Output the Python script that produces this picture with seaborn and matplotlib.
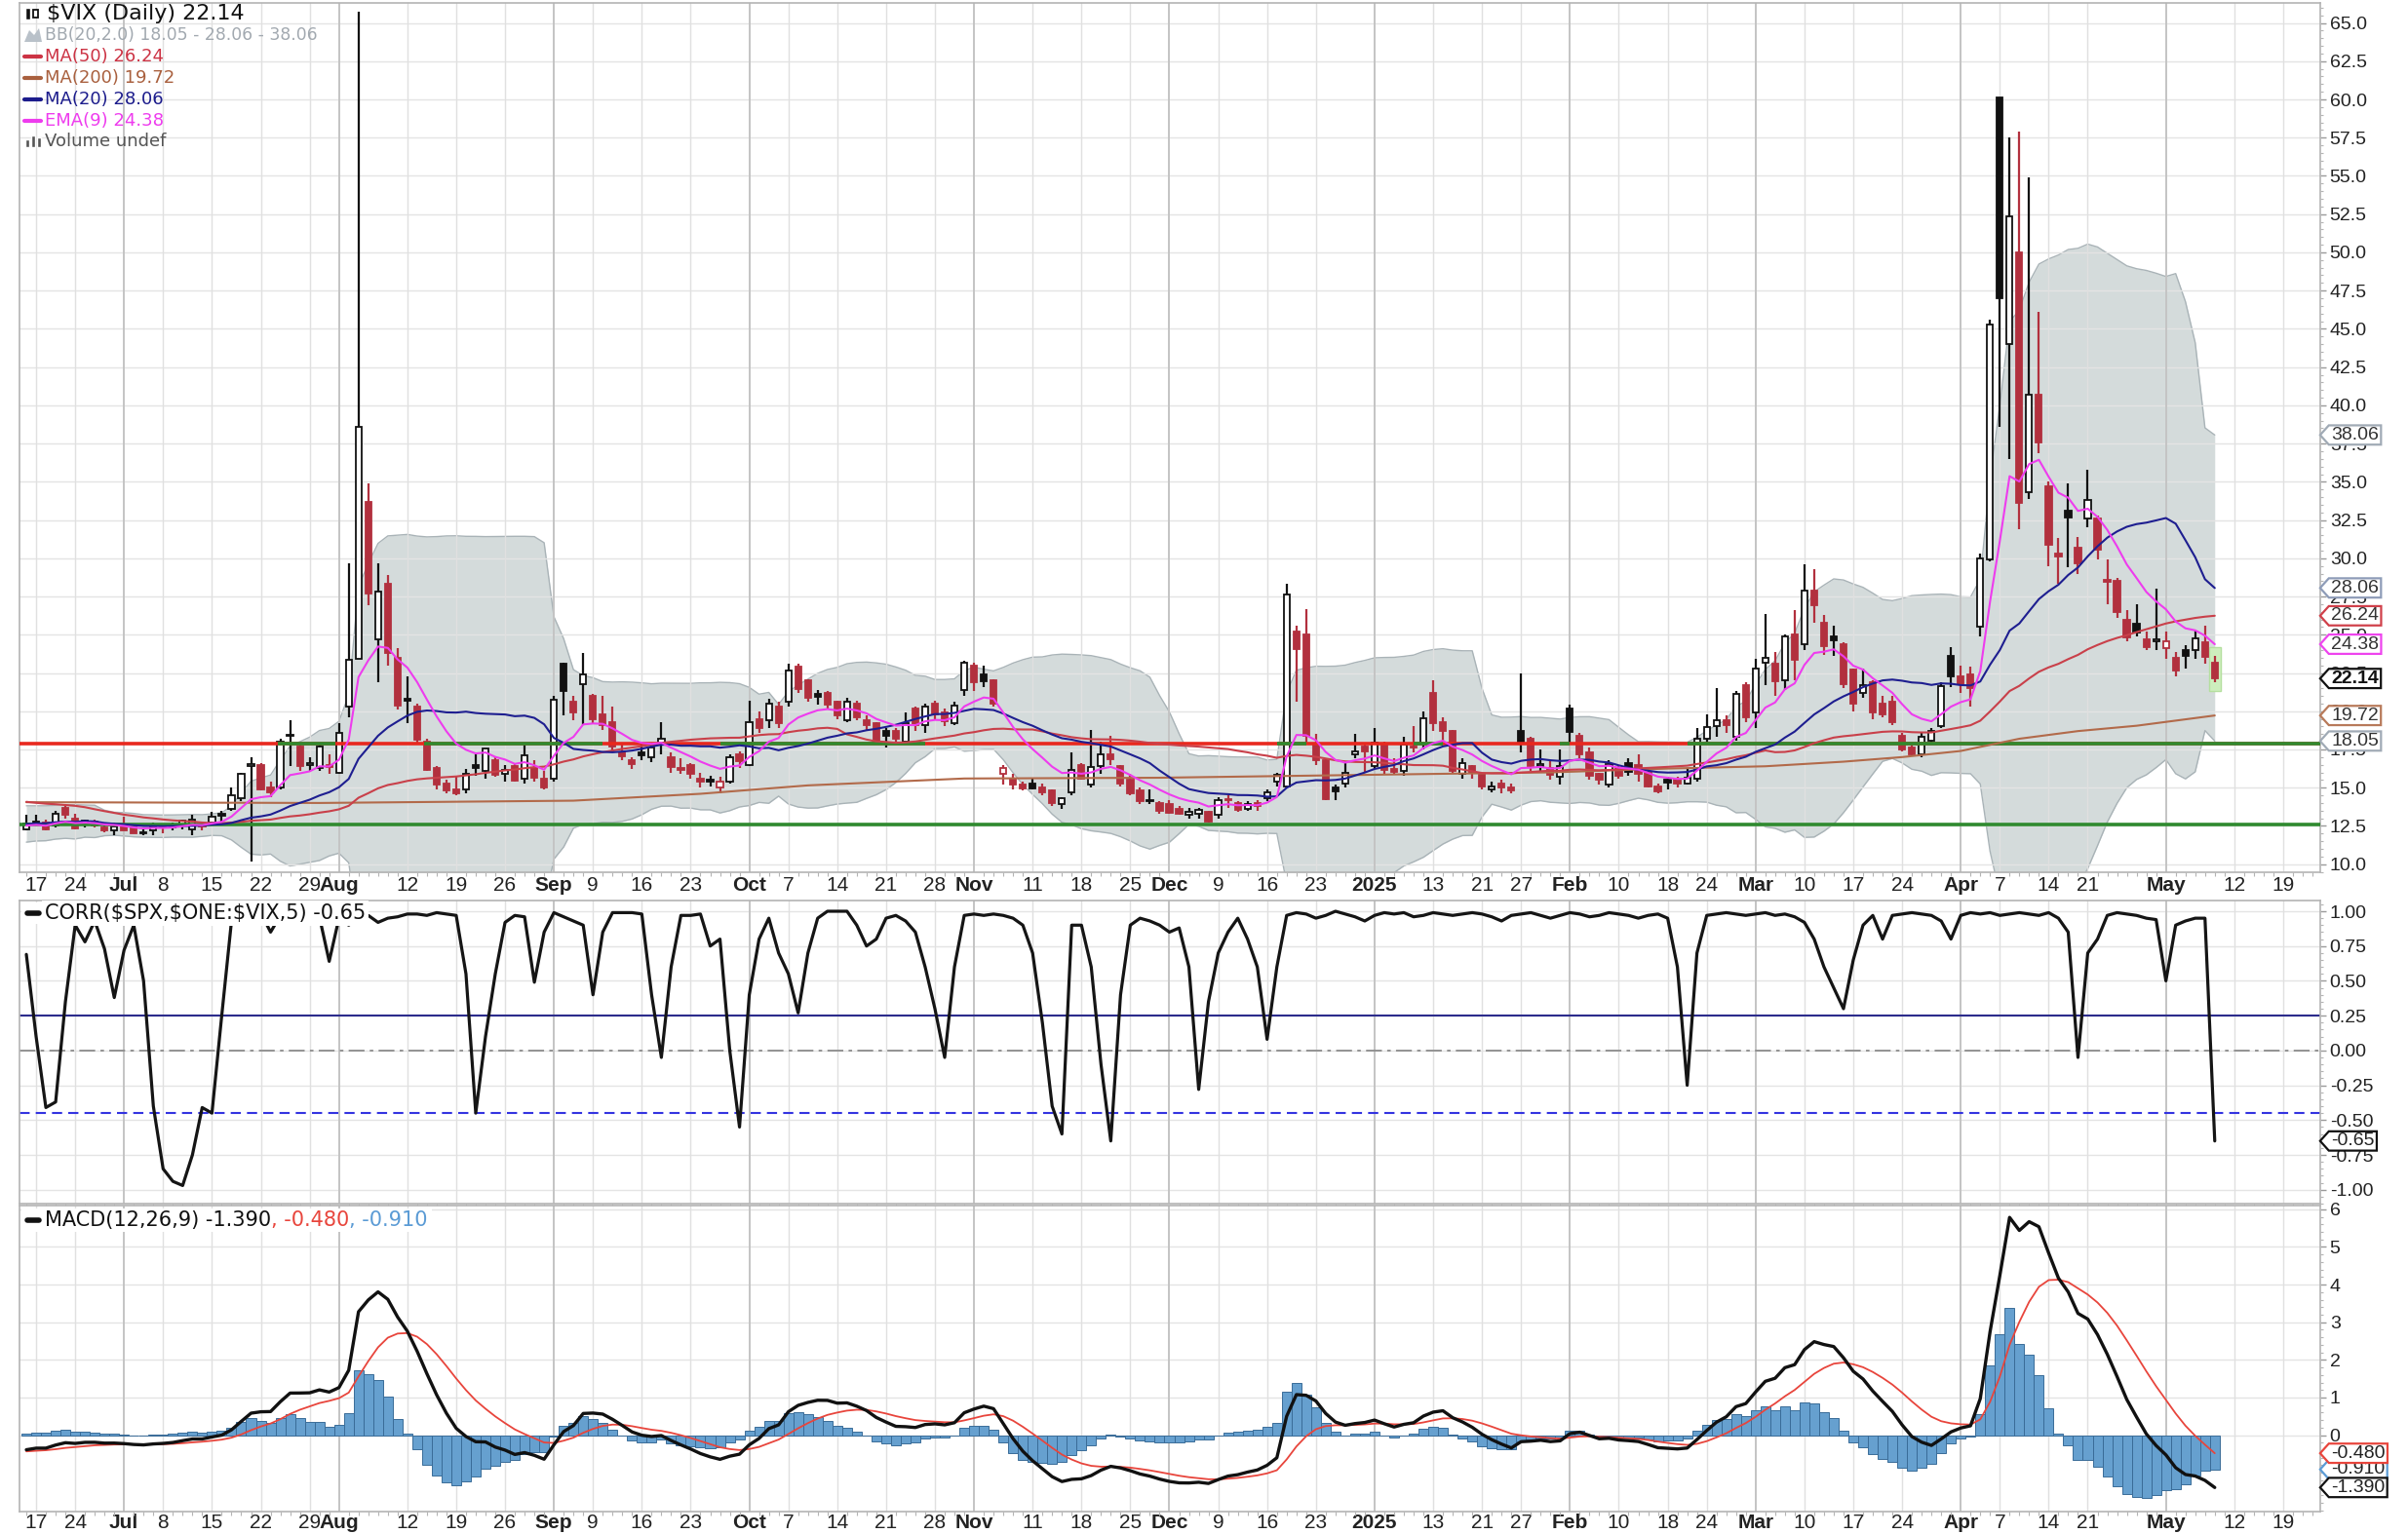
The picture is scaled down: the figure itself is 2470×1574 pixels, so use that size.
import numpy as np
import pandas as pd
import matplotlib
matplotlib.use("Agg")
import matplotlib.pyplot as plt
import seaborn as sns
from matplotlib.path import Path
from matplotlib.patches import Rectangle, Polygon
from matplotlib.lines import Line2D
from matplotlib.ticker import MultipleLocator

sns.set_theme(style="white")
plt.rcParams["font.family"] = ["DejaVu Sans"]

# ---------------------------------------------------------------- data
start_date = "2024-06-14"
end_date = "2025-05-08"
holidays = ["2024-06-19", "2024-07-04", "2024-09-02", "2024-11-28", "2024-12-25",
            "2025-01-01", "2025-01-09", "2025-01-20", "2025-02-17", "2025-04-18"]

# closes before the first visible bar (needed for MA / BB / EMA / MACD warm-up)
pre_close = [16.03, 15.19, 14.98, 15.80, 14.91, 17.31, 19.23, 18.40, 18.21, 18.00,
             16.14, 16.94, 15.69, 15.97, 15.37, 15.03, 14.67, 15.65, 14.65, 13.49,
             12.68, 13.49, 13.23, 13.00, 12.69, 12.55, 13.60, 13.42, 12.45, 12.42,
             11.99, 12.15, 11.86, 12.29, 12.77, 11.93, 12.92, 14.28, 13.49, 12.92,
             13.11, 13.16, 12.63, 12.58, 12.22, 12.74, 12.85, 12.04, 11.94]

open_ = [
    12.3, 12.7, 12.7, 12.5, 13.7, 13.0, 12.6, 12.8, 12.4, 12.2,
    12.6, 12.5, 12.0, 12.2, 12.4, 12.4, 12.5, 12.3, 12.6, 12.7, 13.3, 13.6, 14.3, 16.4, 16.5, 15.0, 15.0, 18.4, 17.7, 16.5, 16.3, 16.5,
    16.0, 20.3, 23.4, 33.7, 24.7, 28.3, 23.5, 20.8, 20.3, 18.0, 16.3, 15.3, 14.9, 14.9, 16.5, 16.1, 16.8, 15.9, 16.4, 15.6, 16.3, 15.6,
    15.6, 23.1, 20.6, 21.8, 21.0, 19.8, 19.3, 17.3, 16.8, 17.3, 17.0, 17.8, 17.0, 16.3, 16.5, 15.6, 15.5, 15.0, 15.4, 17.2,
    16.5, 19.5, 19.4, 20.3, 20.6, 22.9, 22.0, 21.1, 21.2, 20.6, 19.4, 20.5, 19.4, 19.2, 18.7, 18.7, 18.0, 20.2, 19.1, 20.5, 19.9, 19.2, 21.4,
    23.0, 22.4, 22.0, 15.9, 15.6, 15.2, 15.3, 15.0, 14.8, 13.9, 14.7, 16.5, 15.2, 16.4, 17.2, 16.4, 15.5, 14.8, 14.2, 14.0,
    13.9, 13.6, 13.2, 13.3, 13.4, 13.2, 14.2, 14.0, 13.6, 14.0, 14.3, 15.4, 15.1, 25.2, 25.0, 17.9, 16.8, 15.0, 15.3, 17.2, 17.7,
    16.4, 17.9, 16.2, 16.1, 17.6, 17.9, 21.2, 19.3, 18.7, 15.9, 16.4, 15.9, 14.9, 15.3, 15.0, 18.7, 18.2, 16.4, 16.3, 15.7,
    20.2, 18.4, 17.3, 15.9, 15.2, 16.3, 16.6, 16.5, 16.0, 15.1, 15.5, 15.5, 15.3, 15.6, 18.2, 19.0, 19.4, 18.3, 21.7,
    19.9, 23.2, 23.1, 22.0, 25.0, 24.4, 27.9, 25.8, 24.9, 24.4, 22.7, 21.2, 21.9, 20.5, 20.6, 18.4, 17.6, 17.2, 18.1, 19.0, 23.6,
    22.3, 22.4, 25.5, 29.9, 60.1, 44.0, 50.0, 34.3, 40.7, 34.7, 30.3, 33.1, 30.7, 32.6, 32.6, 28.6, 28.5, 26.0, 25.7, 24.7, 24.6,
    24.1, 23.5, 24.0, 24.0, 24.5, 23.2]

high = [
    13.2, 13.2, 12.9, 13.5, 13.9, 13.3, 12.9, 12.9, 12.6, 12.7,
    13.1, 12.6, 12.3, 12.7, 12.6, 12.7, 12.9, 13.2, 12.8, 13.4, 13.5, 15.0, 16.0, 17.0, 16.6, 15.4, 18.2, 19.4, 17.9, 17.0, 17.9, 17.2,
    19.2, 29.7, 65.73, 34.9, 29.7, 28.9, 24.1, 22.3, 20.5, 18.2, 16.4, 15.5, 15.8, 16.2, 17.2, 17.5, 17.0, 16.5, 16.6, 17.8, 16.8, 16.1,
    21.0, 23.2, 21.0, 23.8, 21.1, 21.0, 20.3, 17.9, 17.0, 17.9, 17.9, 19.3, 17.3, 16.9, 16.6, 16.0, 15.8, 15.7, 17.2, 17.4,
    20.7, 20.0, 20.8, 20.6, 23.1, 23.1, 22.1, 21.4, 21.3, 20.7, 20.9, 20.7, 19.7, 19.3, 18.9, 18.9, 19.9, 20.3, 20.5, 20.7, 20.2, 20.6, 23.3,
    23.2, 23.0, 22.1, 16.5, 15.9, 15.4, 15.6, 15.3, 14.9, 14.4, 17.3, 16.6, 18.8, 18.0, 18.4, 16.5, 15.9, 15.0, 14.9, 14.1,
    14.2, 13.8, 13.7, 13.7, 13.5, 14.4, 14.5, 14.1, 14.1, 14.2, 14.9, 16.0, 28.32, 25.6, 26.7, 18.5, 16.9, 15.2, 16.6, 18.5, 17.8,
    18.9, 18.0, 16.9, 18.3, 19.0, 20.0, 22.0, 19.6, 18.8, 16.9, 16.5, 16.0, 15.4, 15.5, 15.3, 22.5, 18.3, 17.5, 16.8, 17.5,
    20.4, 18.6, 17.6, 16.0, 16.8, 16.4, 16.9, 17.2, 16.1, 15.3, 15.7, 15.7, 16.3, 18.9, 19.8, 21.5, 19.7, 21.3, 21.9,
    23.4, 26.35, 23.9, 25.0, 26.6, 29.6, 29.3, 26.3, 25.6, 24.5, 22.8, 22.8, 22.0, 21.0, 21.0, 18.6, 17.8, 18.6, 18.9, 21.9, 24.2,
    23.0, 22.9, 30.3, 45.6, 60.1, 57.5, 57.9, 54.9, 46.1, 35.0, 31.3, 34.9, 31.4, 35.8, 32.8, 29.9, 28.7, 26.6, 27.0, 25.2, 28.0,
    25.2, 23.9, 24.3, 25.3, 25.6, 23.6]

low = [
    12.2, 12.6, 12.2, 12.4, 13.0, 12.3, 12.4, 12.4, 12.1, 11.9,
    12.2, 12.0, 11.9, 11.9, 12.0, 12.2, 12.3, 11.9, 12.2, 12.6, 12.8, 13.5, 14.1, 10.2, 14.8, 14.4, 14.9, 16.4, 16.1, 16.1, 16.1, 15.9,
    15.9, 19.6, 23.4, 26.9, 21.9, 23.0, 20.1, 19.2, 17.9, 16.1, 14.9, 14.6, 14.5, 14.6, 15.8, 15.6, 15.7, 15.4, 15.4, 15.3, 15.4, 14.9,
    15.4, 19.7, 19.4, 19.1, 19.2, 18.8, 17.3, 16.8, 16.2, 16.8, 16.7, 17.2, 16.0, 15.9, 15.6, 15.0, 15.1, 14.6, 15.3, 16.3,
    16.4, 18.6, 18.9, 18.9, 20.3, 21.2, 20.6, 20.4, 20.1, 19.5, 19.3, 19.4, 18.8, 17.9, 17.6, 17.8, 17.9, 18.7, 18.6, 19.5, 19.0, 19.1, 21.0,
    21.3, 21.6, 20.3, 15.2, 14.9, 14.8, 14.9, 14.5, 13.8, 13.6, 14.5, 15.5, 15.0, 15.9, 16.5, 15.1, 14.5, 13.9, 13.9, 13.3,
    13.3, 13.2, 13.0, 13.0, 12.7, 13.0, 13.7, 13.4, 13.5, 13.5, 14.1, 15.1, 15.0, 20.6, 17.8, 16.5, 14.2, 14.2, 15.0, 16.9, 16.0,
    16.2, 15.9, 15.9, 15.8, 17.3, 17.5, 18.7, 18.0, 15.9, 15.6, 15.6, 14.9, 14.7, 14.6, 14.6, 17.3, 16.1, 16.0, 15.5, 15.2,
    17.8, 16.9, 15.5, 15.2, 15.0, 15.6, 15.8, 15.4, 15.0, 14.6, 14.9, 15.0, 15.2, 15.4, 17.9, 18.3, 18.6, 18.1, 19.3,
    18.9, 21.7, 21.0, 21.4, 22.0, 24.0, 25.8, 23.7, 23.6, 21.5, 20.0, 20.9, 19.5, 19.6, 19.1, 17.4, 17.1, 17.0, 17.9, 18.9, 21.6,
    21.2, 20.3, 24.9, 29.8, 38.6, 36.5, 31.9, 33.9, 36.9, 29.5, 28.3, 29.4, 29.0, 32.0, 29.9, 27.0, 26.1, 24.6, 24.9, 24.0, 24.0,
    23.4, 22.3, 22.8, 23.4, 23.1, 21.9]

close = [
    12.66, 12.75, 12.30, 13.28, 13.20, 12.33, 12.84, 12.55, 12.24, 12.44,
    12.22, 12.03, 12.09, 12.48, 12.37, 12.51, 12.85, 12.91, 12.46, 13.12, 13.19, 14.48, 15.93, 16.52, 14.91, 14.72, 18.04, 18.46, 16.39, 16.60, 17.69, 16.36,
    18.59, 23.39, 38.57, 27.71, 27.85, 23.79, 20.37, 20.71, 18.12, 16.19, 15.23, 14.80, 14.65, 15.88, 16.27, 17.55, 15.86, 16.15, 15.43, 17.11, 15.65, 15.00,
    20.72, 21.32, 19.90, 22.38, 19.45, 19.08, 17.69, 17.07, 16.56, 17.14, 17.61, 18.23, 16.33, 16.15, 15.89, 15.39, 15.41, 15.37, 16.96, 16.73,
    19.26, 18.90, 20.49, 19.21, 22.64, 21.42, 20.86, 20.93, 20.46, 19.70, 20.64, 19.58, 19.11, 18.03, 18.37, 18.20, 19.24, 19.08, 20.33, 19.80, 19.34, 20.35, 23.16,
    21.88, 21.98, 20.49, 16.27, 15.20, 14.94, 14.97, 14.71, 14.02, 14.31, 16.14, 15.58, 16.35, 17.16, 16.87, 15.24, 14.60, 14.10, 14.10, 13.51,
    13.34, 13.30, 13.45, 13.54, 12.77, 14.19, 14.18, 13.58, 13.92, 13.81, 14.69, 15.87, 27.62, 24.09, 18.36, 16.78, 14.27, 14.73, 15.95, 17.40, 17.35,
    17.93, 16.13, 16.04, 17.82, 17.70, 19.54, 19.19, 18.71, 16.12, 16.60, 15.97, 15.06, 15.10, 15.02, 14.85, 17.90, 16.41, 16.56, 15.84, 16.43,
    18.62, 17.21, 15.77, 15.50, 16.54, 15.81, 16.02, 15.89, 15.10, 14.77, 15.35, 15.27, 15.66, 18.21, 18.98, 19.43, 19.10, 21.13, 19.63,
    22.78, 23.51, 21.93, 24.87, 23.37, 27.86, 26.92, 24.23, 24.66, 21.77, 20.51, 21.70, 19.90, 19.80, 19.28, 17.48, 17.15, 18.33, 18.69, 21.65, 22.28,
    21.77, 21.51, 30.02, 45.31, 46.98, 52.33, 33.62, 40.72, 37.56, 30.89, 30.12, 32.64, 29.65, 33.82, 30.57, 28.45, 26.47, 24.84, 25.15, 24.17, 24.70,
    24.60, 22.68, 23.64, 24.76, 23.55, 22.14]

# CORR($SPX,$ONE:$VIX,5), one value per bar
corr = [
    0.69, 0.10, -0.41, -0.37, 0.35, 0.90, 0.78, 0.93, 0.73, 0.38,
    0.72, 0.90, 0.50, -0.40, -0.85, -0.94, -0.97, -0.75, -0.41, -0.45,
    0.25, 0.93, 0.98, 0.97, 0.99, 0.85, 0.97, 0.98, 0.97, 0.95,
    0.96, 0.64, 0.95, 0.90, 0.96, 0.97, 0.92, 0.95, 0.96, 0.98,
    0.98, 0.97, 0.99, 0.98, 0.97, 0.55, -0.45, 0.10, 0.55, 0.92,
    0.97, 0.96, 0.49, 0.85, 0.99, 0.96, 0.93, 0.90, 0.40, 0.85,
    0.99, 0.99, 0.99, 0.98, 0.40, -0.05, 0.60, 0.97, 0.97, 0.98,
    0.75, 0.80, 0.00, -0.55, 0.40, 0.80, 0.95, 0.70, 0.55, 0.27,
    0.70, 0.95, 1.00, 1.00, 1.00, 0.90, 0.75, 0.80, 0.95, 0.97,
    0.93, 0.85, 0.60, 0.30, -0.05, 0.60, 0.97, 0.98, 0.97, 0.98,
    0.97, 0.95, 0.90, 0.70, 0.20, -0.40, -0.60, 0.90, 0.90, 0.60,
    -0.10, -0.65, 0.40, 0.90, 0.95, 0.93, 0.90, 0.85, 0.88, 0.60,
    -0.28, 0.35, 0.70, 0.85, 0.95, 0.80, 0.60, 0.08, 0.60, 0.97,
    0.99, 0.98, 0.95, 0.97, 1.00, 0.98, 0.96, 0.93, 0.97, 0.99,
    0.98, 0.99, 0.96, 0.97, 0.99, 0.98, 0.97, 0.98, 0.99, 0.98,
    0.96, 0.93, 0.97, 0.98, 0.99, 0.97, 0.95, 0.97, 0.99, 0.98,
    0.96, 0.97, 0.99, 0.98, 0.97, 0.95, 0.97, 0.98, 0.95, 0.60,
    -0.25, 0.70, 0.97, 0.98, 0.99, 0.98, 0.97, 0.98, 0.99, 0.97,
    0.98, 0.96, 0.92, 0.80, 0.60, 0.45, 0.30, 0.65, 0.90, 0.97,
    0.80, 0.97, 0.98, 0.99, 0.98, 0.97, 0.93, 0.80, 0.97, 0.99,
    0.98, 0.99, 0.97, 0.98, 0.99, 0.98, 0.97, 0.99, 0.95, 0.85,
    -0.05, 0.70, 0.80, 0.97, 0.99, 0.98, 0.97, 0.95, 0.94, 0.50,
    0.90, 0.93, 0.95, 0.95, -0.65]

# MA(200) at a set of bars
ma200_bar = [0, 30, 56, 69, 80, 96, 116, 144, 156, 168, 178, 186, 192, 198, 204, 210, 216, 224]
ma200_val = [14.05, 14.0, 14.15, 14.6, 15.15, 15.6, 15.65, 15.9, 16.0, 16.25, 16.4, 16.7, 17.0, 17.4, 18.2, 18.7, 19.05, 19.72]

# user-drawn horizontal levels
level_upper = 17.9
level_lower = 12.6

tick_dates = ["2024-06-17", "2024-06-24", "2024-07-01", "2024-07-08", "2024-07-15", "2024-07-22",
              "2024-07-29", "2024-08-01", "2024-08-12", "2024-08-19", "2024-08-26", "2024-09-03",
              "2024-09-09", "2024-09-16", "2024-09-23", "2024-10-01", "2024-10-07", "2024-10-14",
              "2024-10-21", "2024-10-28", "2024-11-01", "2024-11-11", "2024-11-18", "2024-11-25",
              "2024-12-02", "2024-12-09", "2024-12-16", "2024-12-23", "2025-01-02", "2025-01-13",
              "2025-01-21", "2025-01-27", "2025-02-03", "2025-02-10", "2025-02-18", "2025-02-24",
              "2025-03-03", "2025-03-10", "2025-03-17", "2025-03-24", "2025-04-01", "2025-04-07",
              "2025-04-14", "2025-04-21", "2025-05-01", "2025-05-12", "2025-05-19"]
tick_texts = ["17", "24", "Jul", "8", "15", "22", "29", "Aug", "12", "19", "26", "Sep",
              "9", "16", "23", "Oct", "7", "14", "21", "28", "Nov", "11", "18", "25",
              "Dec", "9", "16", "23", "2025", "13", "21", "27", "Feb", "10", "18", "24",
              "Mar", "10", "17", "24", "Apr", "7", "14", "21", "May", "12", "19"]
month_texts = {"Jul", "Aug", "Sep", "Oct", "Nov", "Dec", "2025", "Feb", "Mar", "Apr", "May"}

legend_main = ["\\$VIX (Daily) 22.14", "BB(20,2.0) 18.05 - 28.06 - 38.06", "MA(50) 26.24",
               "MA(200) 19.72", "MA(20) 28.06", "EMA(9) 24.38", "Volume undef"]
main_tags = [38.06, 28.06, 26.24, 24.38, 22.14, 19.72, 18.05]
corr_tag = -0.65
macd_tags = [-0.480, -0.910, -1.390]

# ---------------------------------------------------------------- derived
hol = pd.to_datetime(holidays)
all_days = pd.bdate_range(start_date, "2025-05-30")
all_days = all_days[~all_days.isin(hol)]
pos = {d: i for i, d in enumerate(all_days)}
n = len(close)
x = np.arange(n)
O = np.array(open_); Hh = np.array(high); L = np.array(low); C = np.array(close)

full = pd.Series(pre_close + close, dtype=float)
npre = len(pre_close)
ma20 = full.rolling(20).mean().values[npre:]
sd20 = full.rolling(20).std(ddof=0).values[npre:]
bb_up = ma20 + 2 * sd20
bb_lo = ma20 - 2 * sd20
ma50 = full.rolling(50).mean().values[npre:]
ema9 = full.ewm(span=9, adjust=False).mean().values[npre:]
macd_full = full.ewm(span=12, adjust=False).mean() - full.ewm(span=26, adjust=False).mean()
sig_full = macd_full.ewm(span=9, adjust=False).mean()
macd = macd_full.values[npre:]
sig = sig_full.values[npre:]
hist = macd - sig

tick_pos = [pos[pd.Timestamp(d)] for d in tick_dates]

# ---------------------------------------------------------------- figure
W, H = 2470, 1574
fig = plt.figure(figsize=(W / 100, H / 100), dpi=100)
fig.patch.set_facecolor("white")


def add_ax(l, t, r, b):
    return fig.add_axes([l / W, 1 - b / H, (r - l) / W, (b - t) / H])


ax1 = add_ax(20, 3, 2380, 895)
ax2 = add_ax(20, 924, 2380, 1235)
ax3 = add_ax(20, 1237, 2380, 1551)

AXF = ["Liberation Sans", "DejaVu Sans"]
XF = ["Liberation Sans Narrow", "Liberation Sans", "DejaVu Sans"]
RED = "#b2303e"


def style_axis(ax, ylim, yt, fmt, minor, show_x):
    ax.set_facecolor("white")
    ax.set_xlim(-0.7, 234.8)
    ax.set_ylim(*ylim)
    for s in ax.spines.values():
        s.set_color("#b4b4b4")
        s.set_linewidth(1.2)
    ax.yaxis.tick_right()
    ax.set_yticks(yt)
    ax.set_yticklabels([fmt % v for v in yt], fontfamily=AXF, fontsize=14, color="#222222")
    ax.yaxis.set_minor_locator(MultipleLocator(minor))
    ax.tick_params(axis="y", which="major", right=True, left=False, length=4, width=1,
                   color="#9a9a9a", pad=3)
    ax.tick_params(axis="y", which="minor", right=True, left=False, length=2.5, width=0.8,
                   color="#b4b4b4")
    ax.set_xticks(tick_pos)
    ax.xaxis.set_minor_locator(MultipleLocator(1))
    ax.tick_params(axis="x", which="major", length=0, bottom=True, pad=4)
    ax.tick_params(axis="x", which="minor", length=3, width=0.8, color="#b4b4b4",
                   bottom=True, direction="out")
    if show_x:
        ax.set_xticklabels(tick_texts, fontfamily=XF, fontsize=15, color="#222222")
        for lab in ax.get_xticklabels():
            if lab.get_text() in month_texts:
                lab.set_fontweight("bold")
    else:
        ax.set_xticklabels([])
    ax.grid(False)
    for v in yt:
        ax.axhline(v, color="#e4e4e4", lw=1.0, zorder=1.2)
    for p, t in zip(tick_pos, tick_texts):
        if t in month_texts:
            ax.axvline(p, color="#c4c4c4", lw=1.4, zorder=1.2)
        else:
            ax.axvline(p, color="#e0e0e0", lw=1.0, zorder=1.2)


style_axis(ax1, (9.47, 66.31), np.arange(10, 65.01, 2.5), "%.1f", 0.5, True)
style_axis(ax2, (-1.10, 1.077), np.arange(-1, 1.001, 0.25), "%.2f", 0.05, False)
style_axis(ax3, (-2.03, 6.10), np.arange(0, 6.01, 1), "%d", 0.2, True)
ax1.tick_params(axis="x", which="major", pad=3)
ax3.tick_params(axis="x", which="major", pad=1.5)

# ---------------------------------------------------------------- main panel
ax1.fill_between(x, bb_lo, bb_up, color="#d4dbdb", lw=0, zorder=1)
sns.lineplot(x=x, y=bb_up, ax=ax1, color="#a9b3b7", lw=1.0, zorder=1.1)
sns.lineplot(x=x, y=bb_lo, ax=ax1, color="#a9b3b7", lw=1.0, zorder=1.1)

prev = np.r_[pre_close[-1], C[:-1]]
col = np.where(C < prev, RED, "#111111")
filled = C < O
face = np.where(filled, col, "white")
body_lo = np.minimum(O, C)
body_h = np.maximum(np.abs(C - O), 0.07)
ax1.vlines(x, L, Hh, colors=col, lw=1.6, zorder=2.9)
ax1.bar(x, body_h, bottom=body_lo, width=0.62, color=face, edgecolor=col, lw=1.3, zorder=3)

# highlight of the latest bar
ax1.add_patch(Rectangle((n - 1 - 0.6, 21.35), 1.2, 2.85, facecolor="#cdeebd",
                        edgecolor="#b5df9f", lw=1, zorder=2.8))

# horizontal levels
ax1.axhline(level_upper, color="#e8281e", lw=2.6, zorder=3.5)
for a, b in [(25.7, 31.6), (40.7, 59), (71, 92), (128, 131), (142, 145), (157, 158), (170, 234.8)]:
    ax1.hlines(level_upper, a, b, color="#2f8a2f", lw=2.6, zorder=3.6)
ax1.axhline(level_lower, color="#2f8a2f", lw=2.6, zorder=3.5)

sns.lineplot(x=ma200_bar, y=ma200_val, ax=ax1, color="#b26a4a", lw=1.5, zorder=4)
sns.lineplot(x=x, y=ma50, ax=ax1, color="#c9404a", lw=1.5, zorder=4)
sns.lineplot(x=x, y=ma20, ax=ax1, color="#1e1e90", lw=1.5, zorder=4.1)
sns.lineplot(x=x, y=ema9, ax=ax1, color="#ee3cee", lw=1.5, zorder=4.2)

# ---------------------------------------------------------------- CORR panel
ax2.axhline(0.25, color="#2c2c8c", lw=1.5, zorder=2)
ax2.axhline(0.0, color="#8c8c8c", lw=1.3, ls=(0, (9, 3, 2, 3)), zorder=2)
ax2.axhline(-0.45, color="#3434e0", lw=1.5, ls=(0, (5, 3)), zorder=2)
sns.lineplot(x=x, y=corr, ax=ax2, color="#151515", lw=2.3, zorder=3)

# ---------------------------------------------------------------- MACD panel
ax3.bar(x, hist, width=1.0, color="#66a0cf", edgecolor="#3a6c98", lw=0.7, zorder=2)
sns.lineplot(x=x, y=sig, ax=ax3, color="#e8453c", lw=1.3, zorder=3)
sns.lineplot(x=x, y=macd, ax=ax3, color="#111111", lw=2.4, zorder=3.1)

for ax in (ax1, ax2, ax3):
    ax.set_xlabel("")
    ax.set_ylabel("")
    if ax.get_legend():
        ax.get_legend().remove()


# ---------------------------------------------------------------- value tags
def tag_box(x0, y0, width, height, mutation_size):
    pad = 0.12 * mutation_size
    left = x0 - pad
    right = x0 + width + pad
    bot = y0 - pad * 0.6
    top = y0 + height + pad * 0.6
    tip = (top - bot) * 0.45
    verts = [(left - tip, (bot + top) / 2), (left, top), (right, top), (right, bot),
             (left, bot), (left - tip, (bot + top) / 2)]
    return Path(verts, closed=True)


def tag(ax, y, text, ec, bold=False, tc="#222222"):
    ax.annotate(text, xy=(1, y), xycoords=("axes fraction", "data"), xytext=(8, 0),
                textcoords="offset points", va="center", ha="left", fontsize=14,
                fontfamily=AXF, fontweight="bold" if bold else "normal", color=tc,
                bbox=dict(boxstyle=tag_box, fc="white", ec=ec, lw=1.6),
                annotation_clip=False, zorder=10)


tag_colors = ["#a0aab5", "#8e9cb8", "#d0404a", "#ee44ee", "#111111", "#b87a5a", "#a0aab5"]
for v, c in zip(main_tags, tag_colors):
    tag(ax1, v, "%.2f" % v, c, bold=(v == 22.14), tc="#111111" if v == 22.14 else "#333333")
tag(ax2, corr_tag, "%.2f" % corr_tag, "#111111")
tag(ax3, macd_tags[1], "%.3f" % macd_tags[1], "#5b9bd5")
tag(ax3, macd_tags[0], "%.3f" % macd_tags[0], "#e8453c")
tag(ax3, macd_tags[2], "%.3f" % macd_tags[2], "#111111")


# ---------------------------------------------------------------- legends
def fx(px):
    return px / W


def fy(py):
    return 1 - py / H


rows = [14, 36, 58, 80, 102, 124, 145]
leg_colors = ["#111111", "#a2a9b0", "#cc3344", "#a9603e", "#1c1c8c", "#ee3cee", "#555555"]
leg_sizes = [16, 12.4, 13, 13, 13, 13, 13]
for i, (txt, c) in enumerate(zip(legend_main, leg_colors)):
    fig.text(fx(48 if i == 0 else 46), fy(rows[i]), txt, color=c,
             fontsize=leg_sizes[i], va="center", ha="left")
# icons
fig.patches.append(Rectangle((fx(26), fy(rows[0] + 6)), fx(5), 12 / H, facecolor="#111111",
                             transform=fig.transFigure, figure=fig))
fig.patches.append(Rectangle((fx(34), fy(rows[0] + 4)), fx(5), 8 / H, facecolor="white",
                             edgecolor="#111111", lw=1.3, transform=fig.transFigure, figure=fig))
fig.patches.append(Polygon([(fx(25), fy(rows[1] + 7)), (fx(30), fy(rows[1] - 5)),
                            (fx(35), fy(rows[1])), (fx(40), fy(rows[1] - 7)),
                            (fx(43), fy(rows[1] + 7))], closed=True, facecolor="#b9c1c9",
                           edgecolor="none", transform=fig.transFigure, figure=fig))
for i in range(2, 6):
    fig.lines.append(Line2D([fx(25), fx(42)], [fy(rows[i]), fy(rows[i])], color=leg_colors[i],
                            lw=3, transform=fig.transFigure, figure=fig))
for k, hgt in enumerate([8, 12, 10]):
    fig.patches.append(Rectangle((fx(26 + k * 6), fy(rows[6] + 6)), fx(4), hgt / H,
                                 facecolor="#555555", transform=fig.transFigure, figure=fig))

renderer = fig.canvas.get_renderer()

# CORR label
t = fig.text(fx(46), fy(937), "CORR(\\$SPX,\\$ONE:\\$VIX,5) -0.65", color="#111111",
             fontsize=15, va="center", ha="left", zorder=20,
             bbox=dict(boxstyle="square,pad=0.15", fc="white", ec="none"))
fig.patches.append(Rectangle((fx(22), fy(948)), fx(24), 22 / H, facecolor="white",
                             edgecolor="none", transform=fig.transFigure, figure=fig, zorder=19))
fig.lines.append(Line2D([fx(28), fx(40)], [fy(937), fy(937)], color="#111111", lw=4,
                        transform=fig.transFigure, figure=fig, zorder=21))

# MACD label (multi-coloured)
pieces = [("MACD(12,26,9) -1.390", "#111111"), (", -0.480", "#e8453c"), (", -0.910", "#5b9bd5")]
xp = 46
for txt, c in pieces:
    tt = fig.text(fx(xp), fy(1252), txt, color=c, fontsize=15, va="center", ha="left", zorder=20)
    bb = tt.get_window_extent(renderer)
    xp += bb.width
fig.patches.append(Rectangle((fx(22), fy(1264)), fx(xp + 4 - 22), 24 / H, facecolor="white",
                             edgecolor="none", transform=fig.transFigure, figure=fig, zorder=19))
fig.lines.append(Line2D([fx(28), fx(40)], [fy(1252), fy(1252)], color="#111111", lw=4,
                        transform=fig.transFigure, figure=fig, zorder=21))

fig.savefig("out.png", dpi=100, facecolor="white")
